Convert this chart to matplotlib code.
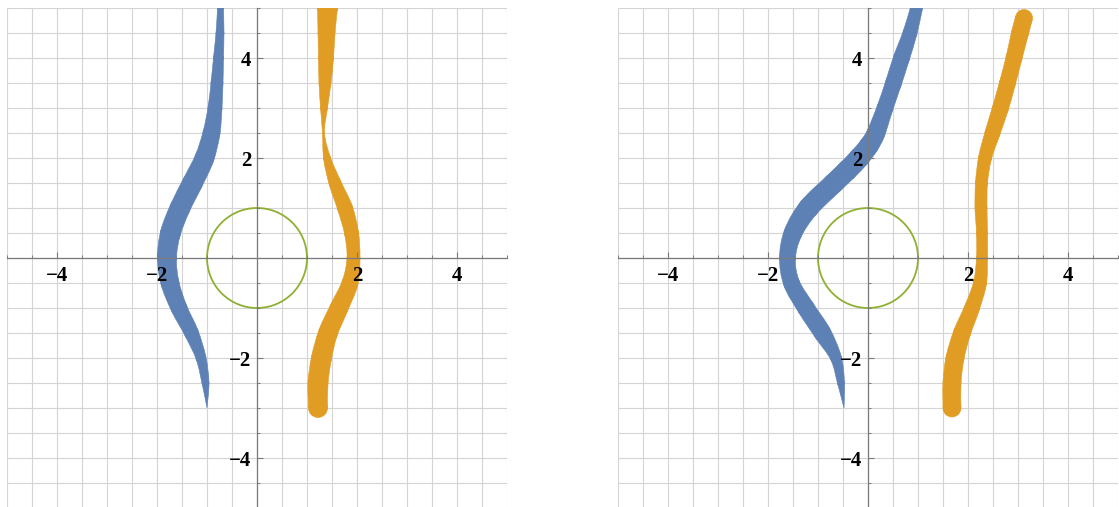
# se importan las bibliotecas
import numpy as np
import matplotlib.pyplot as plt
from matplotlib.patches import Circle, PathPatch
from matplotlib.path import Path

# colores por defecto de las curvas
azul = '#5e81b5'
naranja = '#e19c24'
verde = '#8fb032'

# panel izquierdo: curva azul (centro x, y, radio del tubo)
izq_azul_y = [5.0, 4.5, 4.0, 3.5, 3.0, 2.5, 2.0, 1.5, 1.0, 0.5, 0.0,
              -0.5, -1.0, -1.5, -2.0, -2.5, -3.0]
izq_azul_x = [-0.73, -0.74, -0.77, -0.80, -0.84, -0.91, -1.05, -1.29, -1.54,
              -1.73, -1.80, -1.74, -1.56, -1.31, -1.12, -1.03, -1.00]
izq_azul_r = [0.06, 0.08, 0.10, 0.12, 0.14, 0.17, 0.19, 0.20, 0.20, 0.20,
              0.19, 0.18, 0.16, 0.14, 0.10, 0.07, 0.0]

# panel izquierdo: curva naranja
izq_naranja_y = [5.0, 4.5, 4.0, 3.5, 3.0, 2.5, 2.0, 1.5, 1.0, 0.5, 0.0,
                 -0.5, -1.0, -1.5, -2.0, -2.5, -3.0]
izq_naranja_x = [1.41, 1.39, 1.38, 1.36, 1.34, 1.33, 1.40, 1.56, 1.76, 1.89,
                 1.93, 1.86, 1.64, 1.42, 1.29, 1.22, 1.22]
izq_naranja_r = [0.20, 0.17, 0.15, 0.12, 0.07, 0.02, 0.07, 0.12, 0.15, 0.14,
                 0.13, 0.16, 0.18, 0.19, 0.20, 0.20, 0.19]

# panel derecho: curva azul
der_azul_y = [5.0, 4.5, 4.0, 3.5, 3.0, 2.5, 2.25, 2.0, 1.75, 1.5, 1.0, 0.5,
              0.0, -0.5, -1.0, -1.5, -2.0, -2.5, -3.0]
der_azul_x = [0.97, 0.84, 0.67, 0.51, 0.34, 0.16, 0.02, -0.18, -0.42, -0.68,
              -1.19, -1.50, -1.61, -1.53, -1.24, -0.91, -0.64, -0.54, -0.48]
der_azul_r = [0.12, 0.14, 0.16, 0.16, 0.16, 0.18, 0.19, 0.20, 0.20, 0.20,
              0.20, 0.18, 0.16, 0.16, 0.17, 0.17, 0.11, 0.07, 0.0]

# panel derecho: curva naranja
der_naranja_y = [4.8, 4.5, 4.0, 3.5, 3.0, 2.5, 2.0, 1.5, 1.0, 0.5, 0.0,
                 -0.5, -1.0, -1.5, -2.0, -2.5, -3.0]
der_naranja_x = [3.12, 3.04, 2.92, 2.79, 2.65, 2.49, 2.34, 2.27, 2.26, 2.28,
                 2.28, 2.24, 2.08, 1.88, 1.74, 1.68, 1.68]
der_naranja_r = [0.17, 0.17, 0.16, 0.16, 0.16, 0.15, 0.13, 0.12, 0.12, 0.11,
                 0.11, 0.13, 0.15, 0.17, 0.18, 0.18, 0.18]

# marcas de los ejes
marcas = [-4, -2, 2, 4]
etiquetas = ['\u22124', '\u22122', '2', '4']
rejilla = np.arange(-5, 5.01, 0.5)


# tramos bezier (catmull-rom) que pasan por los puntos dados
def tramos(p):
    n = len(p)
    verts = []
    for i in range(n - 1):
        p0 = p[i - 1] if i > 0 else p[i]
        p1 = p[i]
        p2 = p[i + 1]
        p3 = p[i + 2] if i + 2 < n else p[i + 1]
        verts += [p1 + (p2 - p0) / 6, p2 - (p3 - p1) / 6, p2]
    return verts


# se dibuja un tubo de radio variable alrededor de una curva
def tubo(ax, xs, ys, rs, color):
    x = np.asarray(xs)
    y = np.asarray(ys)
    r = np.asarray(rs)
    # direccion normal en cada punto
    dx = np.gradient(x)
    dy = np.gradient(y)
    largo = np.hypot(dx, dy)
    nx = -dy / largo
    ny = dx / largo
    borde_a = np.column_stack([x + r * nx, y + r * ny])
    borde_b = np.column_stack([x - r * nx, y - r * ny])[::-1]
    verts = [borde_a[0]] + tramos(borde_a) + [borde_b[0]] + tramos(borde_b)
    verts.append(borde_a[0])
    m = len(borde_a) - 1
    codes = ([Path.MOVETO] + [Path.CURVE4] * (3 * m) + [Path.LINETO]
             + [Path.CURVE4] * (3 * m) + [Path.CLOSEPOLY])
    ax.add_patch(PathPatch(Path(verts, codes), facecolor=color,
                           edgecolor=color, lw=0.4, zorder=2))
    # circulos en cada punto para redondear el tubo
    for xi, yi, ri in zip(x, y, r):
        if ri > 0:
            ax.add_patch(Circle((xi, yi), ri, facecolor=color,
                                edgecolor=color, lw=0.4, zorder=2))


# se configura un panel con ejes en el origen
def panel(ax, curvas):
    ax.set_xlim(-5, 5)
    ax.set_ylim(-5, 5)
    ax.set_aspect('equal')
    # rejilla
    ax.vlines(rejilla, -5, 5, colors='#d4d4d4', lw=0.8, zorder=0.5)
    ax.hlines(rejilla, -5, 5, colors='#d4d4d4', lw=0.8, zorder=0.5)
    # ejes en el cero
    ax.spines['left'].set_position('zero')
    ax.spines['bottom'].set_position('zero')
    ax.spines['right'].set_visible(False)
    ax.spines['top'].set_visible(False)
    for s in ('left', 'bottom'):
        ax.spines[s].set_color('#7a7a7a')
        ax.spines[s].set_linewidth(0.9)
    ax.set_xticks(marcas)
    ax.set_yticks(marcas)
    ax.set_xticks(rejilla, minor=True)
    ax.set_yticks(rejilla, minor=True)
    ax.set_xticklabels(etiquetas)
    ax.set_yticklabels(etiquetas)
    ax.tick_params(which='major', direction='in', length=4.5, width=0.8,
                   color='#7a7a7a', labelsize=15)
    ax.tick_params(which='minor', direction='in', length=2.5, width=0.7,
                   color='#7a7a7a')
    ax.tick_params(axis='x', which='major', pad=6)
    ax.tick_params(axis='y', which='major', pad=4)
    for t in ax.get_xticklabels() + ax.get_yticklabels():
        t.set_fontfamily('Liberation Serif')
        t.set_fontweight('bold')
    ax.set_axisbelow(False)
    # curvas
    for xs, ys, rs, color in curvas:
        tubo(ax, xs, ys, rs, color)
    # circulo unidad
    ax.add_patch(Circle((0, 0), 1, fill=False, edgecolor=verde, lw=1.3,
                        zorder=2.2))


fig = plt.figure(figsize=(11.19, 5.07), dpi=100)
ax1 = fig.add_axes([7 / 1119, -1 / 507, 500 / 1119, 500 / 507])
ax2 = fig.add_axes([618 / 1119, -1 / 507, 500 / 1119, 500 / 507])

panel(ax1, [(izq_azul_x, izq_azul_y, izq_azul_r, azul),
            (izq_naranja_x, izq_naranja_y, izq_naranja_r, naranja)])
panel(ax2, [(der_azul_x, der_azul_y, der_azul_r, azul),
            (der_naranja_x, der_naranja_y, der_naranja_r, naranja)])

fig.savefig('out.png', dpi=100)
